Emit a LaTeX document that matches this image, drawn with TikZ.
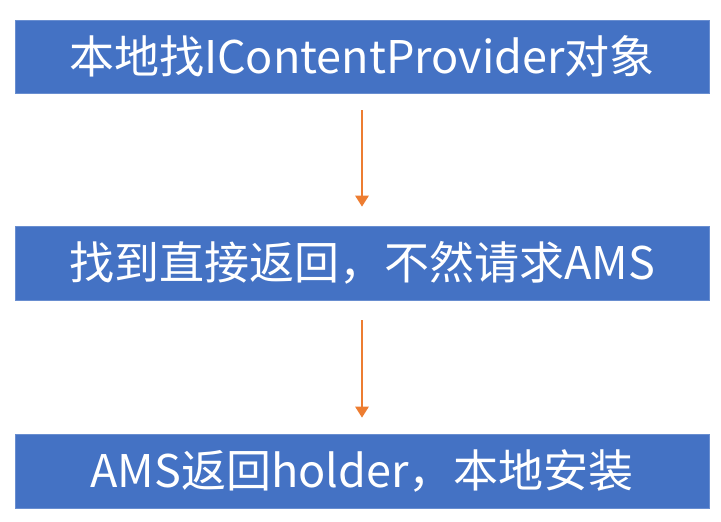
\documentclass[tikz,border=0pt]{standalone}
\usepackage{fontspec}
\setmainfont{Noto Sans CJK SC}
\usetikzlibrary{arrows.meta}
\definecolor{boxblue}{HTML}{4472C4}
\definecolor{arrorange}{HTML}{ED7D31}
\begin{document}
\begin{tikzpicture}[x=1pt,y=-1pt,
  stepbox/.style={fill=boxblue,draw=boxblue!80!white,line width=0.6pt,minimum width=694pt,minimum height=74pt,inner sep=0pt,text=white,font=\fontsize{45}{49}\selectfont},
  flow/.style={draw=arrorange,line width=2.8pt,-{Triangle[width=13pt,length=11pt]}}]
\useasboundingbox (0,0) rectangle (721,522);
\node[stepbox,minimum height=73pt] (a) at (362,56.5) {本地找IContentProvider对象};
\node[stepbox] (b) at (362,263) {找到直接返回，不然请求AMS};
\node[stepbox] (c) at (362,471) {AMS返回holder，本地安装};
\draw[flow,shorten <=17pt,shorten >=19pt] (a.south) -- (b.north);
\draw[flow,shorten <=20pt,shorten >=16pt] (b.south) -- (c.north);
\end{tikzpicture}
\end{document}
